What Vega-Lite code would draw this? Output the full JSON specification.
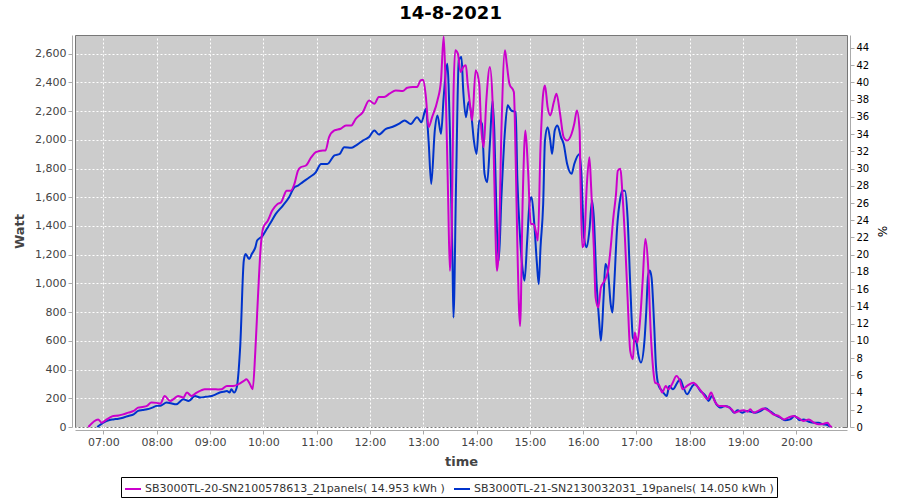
{
  "$schema": "https://vega.github.io/schema/vega-lite/v6.json",
  "width": 772,
  "height": 392,
  "autosize": {"type": "none"},
  "padding": {"left": 75, "top": 35, "right": 53, "bottom": 73},
  "background": "white",
  "title": {"text": "14-8-2021", "font": "DejaVu Sans", "fontSize": 18, "fontWeight": "bold", "color": "black", "anchor": "middle", "frame": "bounds", "offset": 9},
  "config": {
    "view": {"fill": "#cccccc", "stroke": "#777777", "strokeWidth": 1},
    "axis": {"labelFont": "DejaVu Sans", "labelFontSize": 11, "labelColor": "#444444", "titleFont": "DejaVu Sans", "titleFontSize": 13, "titleFontWeight": "bold", "titleColor": "#444444", "domainColor": "#aaaaaa", "tickColor": "#aaaaaa", "tickSize": 4, "offset": 3, "gridColor": "white", "gridDash": [2, 2], "gridOpacity": 1, "gridWidth": 1, "labelPadding": 2},
    "legend": {"strokeColor": "black", "fillColor": "white", "padding": 3, "labelFont": "DejaVu Sans", "labelFontSize": 11, "labelColor": "#333333", "labelLimit": 500, "symbolType": "stroke", "symbolStrokeWidth": 2, "symbolSize": 256, "columnPadding": 5, "labelOffset": 3}
  },
  "datasets": {
    "m": [
      {"t":"2021-08-14T06:43","w":0},{"t":"2021-08-14T06:54","w":53},{"t":"2021-08-14T06:58","w":30},{"t":"2021-08-14T07:03","w":50},{"t":"2021-08-14T07:07","w":65},{"t":"2021-08-14T07:11","w":77},{"t":"2021-08-14T07:17","w":80},{"t":"2021-08-14T07:22","w":88},{"t":"2021-08-14T07:28","w":100},{"t":"2021-08-14T07:34","w":112},{"t":"2021-08-14T07:39","w":135},{"t":"2021-08-14T07:44","w":140},{"t":"2021-08-14T07:49","w":147},{"t":"2021-08-14T07:54","w":170},{"t":"2021-08-14T08:00","w":168},{"t":"2021-08-14T08:04","w":163},{"t":"2021-08-14T08:09","w":216},{"t":"2021-08-14T08:15","w":181},{"t":"2021-08-14T08:20","w":200},{"t":"2021-08-14T08:24","w":216},{"t":"2021-08-14T08:30","w":205},{"t":"2021-08-14T08:34","w":240},{"t":"2021-08-14T08:39","w":216},{"t":"2021-08-14T08:45","w":240},{"t":"2021-08-14T08:50","w":255},{"t":"2021-08-14T08:54","w":263},{"t":"2021-08-14T09:00","w":263},{"t":"2021-08-14T09:04","w":263},{"t":"2021-08-14T09:09","w":262},{"t":"2021-08-14T09:13","w":263},{"t":"2021-08-14T09:19","w":286},{"t":"2021-08-14T09:26","w":286},{"t":"2021-08-14T09:32","w":298},{"t":"2021-08-14T09:38","w":321},{"t":"2021-08-14T09:41","w":333},{"t":"2021-08-14T09:45","w":298},{"t":"2021-08-14T09:48","w":263},{"t":"2021-08-14T09:51","w":530},{"t":"2021-08-14T09:54","w":914},{"t":"2021-08-14T09:57","w":1250},{"t":"2021-08-14T10:00","w":1390},{"t":"2021-08-14T10:05","w":1437},{"t":"2021-08-14T10:10","w":1507},{"t":"2021-08-14T10:16","w":1553},{"t":"2021-08-14T10:20","w":1565},{"t":"2021-08-14T10:24","w":1623},{"t":"2021-08-14T10:26","w":1646},{"t":"2021-08-14T10:31","w":1646},{"t":"2021-08-14T10:35","w":1693},{"t":"2021-08-14T10:39","w":1786},{"t":"2021-08-14T10:42","w":1809},{"t":"2021-08-14T10:48","w":1821},{"t":"2021-08-14T10:54","w":1879},{"t":"2021-08-14T10:59","w":1914},{"t":"2021-08-14T11:07","w":1926},{"t":"2021-08-14T11:10","w":1926},{"t":"2021-08-14T11:14","w":2019},{"t":"2021-08-14T11:20","w":2065},{"t":"2021-08-14T11:27","w":2077},{"t":"2021-08-14T11:33","w":2100},{"t":"2021-08-14T11:39","w":2100},{"t":"2021-08-14T11:44","w":2146},{"t":"2021-08-14T11:52","w":2193},{"t":"2021-08-14T11:59","w":2274},{"t":"2021-08-14T12:05","w":2251},{"t":"2021-08-14T12:10","w":2298},{"t":"2021-08-14T12:16","w":2298},{"t":"2021-08-14T12:22","w":2321},{"t":"2021-08-14T12:29","w":2344},{"t":"2021-08-14T12:37","w":2340},{"t":"2021-08-14T12:42","w":2363},{"t":"2021-08-14T12:48","w":2367},{"t":"2021-08-14T12:53","w":2367},{"t":"2021-08-14T12:57","w":2414},{"t":"2021-08-14T13:00","w":2419},{"t":"2021-08-14T13:03","w":2298},{"t":"2021-08-14T13:06","w":2088},{"t":"2021-08-14T13:10","w":2158},{"t":"2021-08-14T13:16","w":2274},{"t":"2021-08-14T13:20","w":2414},{"t":"2021-08-14T13:23","w":2720},{"t":"2021-08-14T13:25","w":2414},{"t":"2021-08-14T13:28","w":1600},{"t":"2021-08-14T13:30","w":1088},{"t":"2021-08-14T13:32","w":1367},{"t":"2021-08-14T13:34","w":2298},{"t":"2021-08-14T13:36","w":2623},{"t":"2021-08-14T13:39","w":2600},{"t":"2021-08-14T13:42","w":2472},{"t":"2021-08-14T13:45","w":2507},{"t":"2021-08-14T13:48","w":2519},{"t":"2021-08-14T13:50","w":2391},{"t":"2021-08-14T13:53","w":2228},{"t":"2021-08-14T13:55","w":2135},{"t":"2021-08-14T13:59","w":2484},{"t":"2021-08-14T14:03","w":2391},{"t":"2021-08-14T14:05","w":2112},{"t":"2021-08-14T14:08","w":1949},{"t":"2021-08-14T14:11","w":2274},{"t":"2021-08-14T14:15","w":2507},{"t":"2021-08-14T14:18","w":2274},{"t":"2021-08-14T14:20","w":1716},{"t":"2021-08-14T14:23","w":1088},{"t":"2021-08-14T14:25","w":1228},{"t":"2021-08-14T14:28","w":2065},{"t":"2021-08-14T14:32","w":2623},{"t":"2021-08-14T14:34","w":2530},{"t":"2021-08-14T14:37","w":2391},{"t":"2021-08-14T14:42","w":2333},{"t":"2021-08-14T14:44","w":1879},{"t":"2021-08-14T14:46","w":1251},{"t":"2021-08-14T14:49","w":704},{"t":"2021-08-14T14:52","w":1600},{"t":"2021-08-14T14:55","w":2065},{"t":"2021-08-14T14:58","w":1786},{"t":"2021-08-14T15:01","w":1414},{"t":"2021-08-14T15:04","w":1414},{"t":"2021-08-14T15:07","w":1356},{"t":"2021-08-14T15:09","w":1298},{"t":"2021-08-14T15:12","w":1949},{"t":"2021-08-14T15:15","w":2321},{"t":"2021-08-14T15:17","w":2379},{"t":"2021-08-14T15:20","w":2228},{"t":"2021-08-14T15:23","w":2170},{"t":"2021-08-14T15:27","w":2263},{"t":"2021-08-14T15:30","w":2321},{"t":"2021-08-14T15:34","w":2181},{"t":"2021-08-14T15:38","w":2019},{"t":"2021-08-14T15:42","w":1995},{"t":"2021-08-14T15:47","w":2042},{"t":"2021-08-14T15:50","w":2112},{"t":"2021-08-14T15:53","w":2205},{"t":"2021-08-14T15:56","w":2065},{"t":"2021-08-14T15:57","w":1716},{"t":"2021-08-14T15:59","w":1251},{"t":"2021-08-14T16:01","w":1274},{"t":"2021-08-14T16:04","w":1670},{"t":"2021-08-14T16:07","w":1879},{"t":"2021-08-14T16:09","w":1670},{"t":"2021-08-14T16:12","w":1251},{"t":"2021-08-14T16:14","w":902},{"t":"2021-08-14T16:17","w":832},{"t":"2021-08-14T16:20","w":972},{"t":"2021-08-14T16:24","w":1018},{"t":"2021-08-14T16:28","w":1088},{"t":"2021-08-14T16:31","w":1251},{"t":"2021-08-14T16:34","w":1460},{"t":"2021-08-14T16:37","w":1623},{"t":"2021-08-14T16:39","w":1786},{"t":"2021-08-14T16:42","w":1798},{"t":"2021-08-14T16:44","w":1646},{"t":"2021-08-14T16:47","w":1321},{"t":"2021-08-14T16:50","w":902},{"t":"2021-08-14T16:53","w":530},{"t":"2021-08-14T16:56","w":472},{"t":"2021-08-14T16:58","w":658},{"t":"2021-08-14T17:01","w":588},{"t":"2021-08-14T17:04","w":739},{"t":"2021-08-14T17:07","w":1018},{"t":"2021-08-14T17:10","w":1309},{"t":"2021-08-14T17:13","w":1135},{"t":"2021-08-14T17:16","w":669},{"t":"2021-08-14T17:19","w":391},{"t":"2021-08-14T17:21","w":309},{"t":"2021-08-14T17:25","w":298},{"t":"2021-08-14T17:29","w":240},{"t":"2021-08-14T17:33","w":286},{"t":"2021-08-14T17:36","w":263},{"t":"2021-08-14T17:40","w":298},{"t":"2021-08-14T17:45","w":356},{"t":"2021-08-14T17:49","w":321},{"t":"2021-08-14T17:52","w":263},{"t":"2021-08-14T17:57","w":286},{"t":"2021-08-14T18:04","w":309},{"t":"2021-08-14T18:08","w":286},{"t":"2021-08-14T18:14","w":240},{"t":"2021-08-14T18:20","w":193},{"t":"2021-08-14T18:24","w":240},{"t":"2021-08-14T18:28","w":181},{"t":"2021-08-14T18:33","w":147},{"t":"2021-08-14T18:38","w":147},{"t":"2021-08-14T18:43","w":140},{"t":"2021-08-14T18:47","w":123},{"t":"2021-08-14T18:51","w":100},{"t":"2021-08-14T18:56","w":112},{"t":"2021-08-14T19:01","w":116},{"t":"2021-08-14T19:05","w":107},{"t":"2021-08-14T19:08","w":123},{"t":"2021-08-14T19:12","w":100},{"t":"2021-08-14T19:18","w":116},{"t":"2021-08-14T19:23","w":128},{"t":"2021-08-14T19:29","w":112},{"t":"2021-08-14T19:34","w":88},{"t":"2021-08-14T19:40","w":77},{"t":"2021-08-14T19:46","w":53},{"t":"2021-08-14T19:51","w":65},{"t":"2021-08-14T19:57","w":77},{"t":"2021-08-14T20:03","w":60},{"t":"2021-08-14T20:08","w":42},{"t":"2021-08-14T20:14","w":53},{"t":"2021-08-14T20:20","w":30},{"t":"2021-08-14T20:25","w":19},{"t":"2021-08-14T20:31","w":23},{"t":"2021-08-14T20:35","w":30},{"t":"2021-08-14T20:38","w":7},{"t":"2021-08-14T20:40","w":0}
    ],
    "b": [
      {"t":"2021-08-14T06:53","w":0},{"t":"2021-08-14T07:00","w":30},{"t":"2021-08-14T07:05","w":45},{"t":"2021-08-14T07:11","w":53},{"t":"2021-08-14T07:17","w":58},{"t":"2021-08-14T07:22","w":65},{"t":"2021-08-14T07:28","w":77},{"t":"2021-08-14T07:34","w":88},{"t":"2021-08-14T07:39","w":112},{"t":"2021-08-14T07:44","w":118},{"t":"2021-08-14T07:49","w":123},{"t":"2021-08-14T07:55","w":135},{"t":"2021-08-14T08:00","w":147},{"t":"2021-08-14T08:05","w":150},{"t":"2021-08-14T08:11","w":170},{"t":"2021-08-14T08:16","w":165},{"t":"2021-08-14T08:22","w":158},{"t":"2021-08-14T08:30","w":193},{"t":"2021-08-14T08:36","w":181},{"t":"2021-08-14T08:43","w":216},{"t":"2021-08-14T08:49","w":205},{"t":"2021-08-14T08:55","w":210},{"t":"2021-08-14T09:02","w":216},{"t":"2021-08-14T09:06","w":225},{"t":"2021-08-14T09:11","w":240},{"t":"2021-08-14T09:15","w":245},{"t":"2021-08-14T09:19","w":251},{"t":"2021-08-14T09:22","w":240},{"t":"2021-08-14T09:24","w":263},{"t":"2021-08-14T09:27","w":240},{"t":"2021-08-14T09:30","w":274},{"t":"2021-08-14T09:34","w":565},{"t":"2021-08-14T09:38","w":1158},{"t":"2021-08-14T09:40","w":1205},{"t":"2021-08-14T09:44","w":1170},{"t":"2021-08-14T09:47","w":1205},{"t":"2021-08-14T09:51","w":1251},{"t":"2021-08-14T09:53","w":1298},{"t":"2021-08-14T09:59","w":1330},{"t":"2021-08-14T10:04","w":1380},{"t":"2021-08-14T10:08","w":1420},{"t":"2021-08-14T10:14","w":1484},{"t":"2021-08-14T10:22","w":1542},{"t":"2021-08-14T10:29","w":1600},{"t":"2021-08-14T10:35","w":1670},{"t":"2021-08-14T10:39","w":1681},{"t":"2021-08-14T10:44","w":1704},{"t":"2021-08-14T10:52","w":1739},{"t":"2021-08-14T10:59","w":1774},{"t":"2021-08-14T11:05","w":1832},{"t":"2021-08-14T11:12","w":1832},{"t":"2021-08-14T11:20","w":1891},{"t":"2021-08-14T11:26","w":1902},{"t":"2021-08-14T11:31","w":1949},{"t":"2021-08-14T11:39","w":1944},{"t":"2021-08-14T11:44","w":1960},{"t":"2021-08-14T11:52","w":1995},{"t":"2021-08-14T11:59","w":2019},{"t":"2021-08-14T12:05","w":2065},{"t":"2021-08-14T12:10","w":2037},{"t":"2021-08-14T12:18","w":2077},{"t":"2021-08-14T12:25","w":2089},{"t":"2021-08-14T12:33","w":2112},{"t":"2021-08-14T12:39","w":2135},{"t":"2021-08-14T12:46","w":2110},{"t":"2021-08-14T12:53","w":2158},{"t":"2021-08-14T12:58","w":2123},{"t":"2021-08-14T13:03","w":2216},{"t":"2021-08-14T13:06","w":1995},{"t":"2021-08-14T13:09","w":1693},{"t":"2021-08-14T13:13","w":2065},{"t":"2021-08-14T13:16","w":2170},{"t":"2021-08-14T13:20","w":2042},{"t":"2021-08-14T13:23","w":2298},{"t":"2021-08-14T13:27","w":2530},{"t":"2021-08-14T13:30","w":2065},{"t":"2021-08-14T13:33","w":1135},{"t":"2021-08-14T13:34","w":762},{"t":"2021-08-14T13:37","w":1716},{"t":"2021-08-14T13:40","w":2553},{"t":"2021-08-14T13:43","w":2577},{"t":"2021-08-14T13:45","w":2344},{"t":"2021-08-14T13:48","w":2158},{"t":"2021-08-14T13:51","w":2263},{"t":"2021-08-14T13:54","w":2181},{"t":"2021-08-14T13:57","w":1995},{"t":"2021-08-14T14:00","w":1902},{"t":"2021-08-14T14:03","w":2135},{"t":"2021-08-14T14:06","w":2112},{"t":"2021-08-14T14:09","w":1763},{"t":"2021-08-14T14:12","w":1705},{"t":"2021-08-14T14:15","w":1972},{"t":"2021-08-14T14:18","w":2274},{"t":"2021-08-14T14:20","w":2065},{"t":"2021-08-14T14:23","w":1367},{"t":"2021-08-14T14:25","w":1158},{"t":"2021-08-14T14:28","w":1600},{"t":"2021-08-14T14:32","w":2065},{"t":"2021-08-14T14:35","w":2240},{"t":"2021-08-14T14:39","w":2205},{"t":"2021-08-14T14:44","w":2193},{"t":"2021-08-14T14:46","w":1716},{"t":"2021-08-14T14:49","w":1321},{"t":"2021-08-14T14:52","w":1088},{"t":"2021-08-14T14:54","w":1018},{"t":"2021-08-14T14:57","w":1298},{"t":"2021-08-14T15:00","w":1577},{"t":"2021-08-14T15:02","w":1600},{"t":"2021-08-14T15:05","w":1414},{"t":"2021-08-14T15:08","w":1135},{"t":"2021-08-14T15:10","w":995},{"t":"2021-08-14T15:12","w":1251},{"t":"2021-08-14T15:15","w":1553},{"t":"2021-08-14T15:17","w":1995},{"t":"2021-08-14T15:20","w":2088},{"t":"2021-08-14T15:23","w":1995},{"t":"2021-08-14T15:25","w":1902},{"t":"2021-08-14T15:28","w":2065},{"t":"2021-08-14T15:31","w":2100},{"t":"2021-08-14T15:35","w":2019},{"t":"2021-08-14T15:38","w":1972},{"t":"2021-08-14T15:42","w":1832},{"t":"2021-08-14T15:47","w":1763},{"t":"2021-08-14T15:50","w":1832},{"t":"2021-08-14T15:56","w":1902},{"t":"2021-08-14T15:58","w":1763},{"t":"2021-08-14T16:01","w":1321},{"t":"2021-08-14T16:04","w":1251},{"t":"2021-08-14T16:07","w":1367},{"t":"2021-08-14T16:10","w":1577},{"t":"2021-08-14T16:12","w":1460},{"t":"2021-08-14T16:15","w":1018},{"t":"2021-08-14T16:18","w":739},{"t":"2021-08-14T16:20","w":600},{"t":"2021-08-14T16:23","w":902},{"t":"2021-08-14T16:25","w":1135},{"t":"2021-08-14T16:28","w":1077},{"t":"2021-08-14T16:31","w":856},{"t":"2021-08-14T16:33","w":797},{"t":"2021-08-14T16:35","w":995},{"t":"2021-08-14T16:38","w":1367},{"t":"2021-08-14T16:42","w":1600},{"t":"2021-08-14T16:44","w":1646},{"t":"2021-08-14T16:47","w":1646},{"t":"2021-08-14T16:50","w":1460},{"t":"2021-08-14T16:53","w":995},{"t":"2021-08-14T16:56","w":623},{"t":"2021-08-14T17:00","w":588},{"t":"2021-08-14T17:02","w":507},{"t":"2021-08-14T17:05","w":449},{"t":"2021-08-14T17:09","w":600},{"t":"2021-08-14T17:11","w":800},{"t":"2021-08-14T17:13","w":1050},{"t":"2021-08-14T17:15","w":1090},{"t":"2021-08-14T17:17","w":1040},{"t":"2021-08-14T17:20","w":700},{"t":"2021-08-14T17:22","w":420},{"t":"2021-08-14T17:25","w":286},{"t":"2021-08-14T17:29","w":251},{"t":"2021-08-14T17:34","w":216},{"t":"2021-08-14T17:37","w":286},{"t":"2021-08-14T17:41","w":263},{"t":"2021-08-14T17:46","w":309},{"t":"2021-08-14T17:49","w":333},{"t":"2021-08-14T17:53","w":274},{"t":"2021-08-14T17:57","w":228},{"t":"2021-08-14T18:03","w":286},{"t":"2021-08-14T18:06","w":298},{"t":"2021-08-14T18:12","w":251},{"t":"2021-08-14T18:18","w":216},{"t":"2021-08-14T18:21","w":181},{"t":"2021-08-14T18:25","w":216},{"t":"2021-08-14T18:30","w":158},{"t":"2021-08-14T18:35","w":135},{"t":"2021-08-14T18:40","w":147},{"t":"2021-08-14T18:45","w":135},{"t":"2021-08-14T18:50","w":100},{"t":"2021-08-14T18:54","w":116},{"t":"2021-08-14T18:59","w":100},{"t":"2021-08-14T19:04","w":112},{"t":"2021-08-14T19:08","w":107},{"t":"2021-08-14T19:14","w":100},{"t":"2021-08-14T19:20","w":112},{"t":"2021-08-14T19:25","w":130},{"t":"2021-08-14T19:31","w":107},{"t":"2021-08-14T19:36","w":84},{"t":"2021-08-14T19:42","w":65},{"t":"2021-08-14T19:47","w":47},{"t":"2021-08-14T19:53","w":53},{"t":"2021-08-14T19:58","w":77},{"t":"2021-08-14T20:04","w":47},{"t":"2021-08-14T20:08","w":53},{"t":"2021-08-14T20:14","w":37},{"t":"2021-08-14T20:20","w":30},{"t":"2021-08-14T20:25","w":30},{"t":"2021-08-14T20:30","w":19},{"t":"2021-08-14T20:35","w":14},{"t":"2021-08-14T20:38","w":0}
    ]
  },
  "layer": [
    {
      "data": {"name": "b"},
      "mark": {"type": "line", "interpolate": "monotone", "strokeWidth": 2},
      "encoding": {
        "x": {"field": "t", "type": "temporal", "scale": {"domain": ["2021-08-14T06:28", "2021-08-14T20:57"]}, "axis": {"title": "time", "format": "%H:%M", "tickCount": 14, "grid": true, "titlePadding": 8}},
        "y": {"field": "w", "type": "quantitative", "scale": {"domain": [0, 2730], "nice": false}, "axis": {"title": "Watt", "orient": "left", "values": [0, 200, 400, 600, 800, 1000, 1200, 1400, 1600, 1800, 2000, 2200, 2400, 2600], "format": ",d", "grid": true, "titlePadding": 8}},
        "color": {"datum": "SB3000TL-21-SN2130032031_19panels( 14.050 kWh )", "type": "nominal", "scale": {"domain": ["SB3000TL-20-SN2100578613_21panels( 14.953 kWh )", "SB3000TL-21-SN2130032031_19panels( 14.050 kWh )"], "range": ["#cc00cc", "#0033cc"]}, "legend": {"title": null, "orient": "none", "direction": "horizontal", "legendX": 46, "legendY": 442}}
      }
    },
    {
      "data": {"name": "m"},
      "mark": {"type": "line", "interpolate": "monotone", "strokeWidth": 2},
      "encoding": {
        "x": {"field": "t", "type": "temporal"},
        "y": {"field": "w", "type": "quantitative", "scale": {"domain": [0, 2730], "nice": false}, "axis": {"title": "%", "orient": "right", "values": [0, 120, 240, 360, 480, 600, 720, 840, 960, 1080, 1200, 1320, 1440, 1560, 1680, 1800, 1920, 2040, 2160, 2280, 2400, 2520, 2640], "labelExpr": "format(datum.value / 60, 'd')", "labelColor": "black", "labelFontSize": 10, "grid": false, "titlePadding": 6, "titleFontWeight": "normal", "titleColor": "black", "titleFontSize": 12}},
        "color": {"datum": "SB3000TL-20-SN2100578613_21panels( 14.953 kWh )", "type": "nominal"}
      }
    }
  ],
  "resolve": {"scale": {"y": "independent"}}
}
